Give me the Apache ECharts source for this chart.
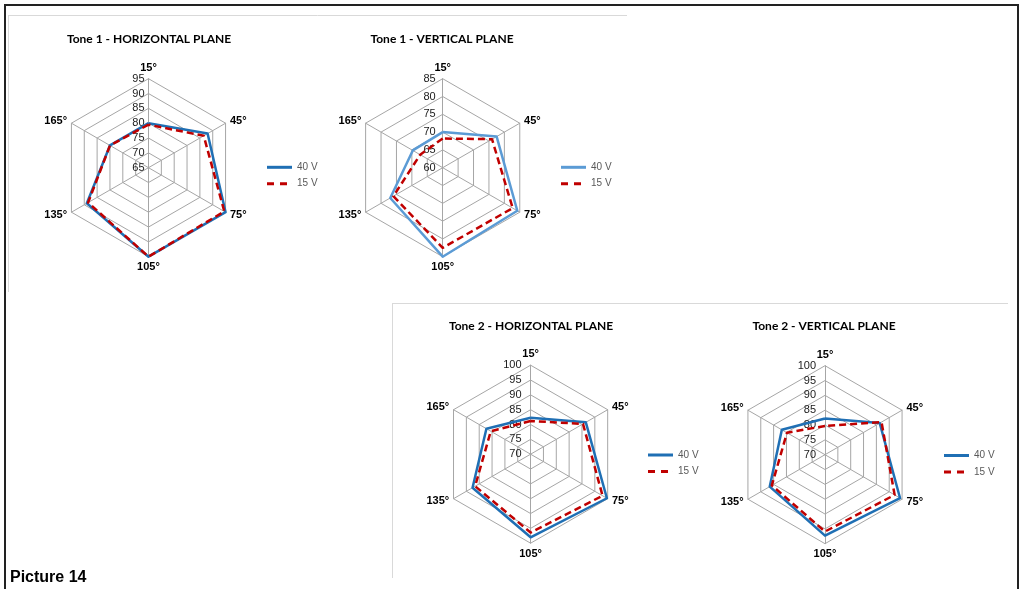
<!DOCTYPE html>
<html><head><meta charset="utf-8">
<script src="https://cdn.jsdelivr.net/npm/echarts@6/dist/echarts.min.js"></script>
<style>html,body{margin:0;padding:0;background:#fff}#c{width:1025px;height:589px}</style>
</head><body><div id="c"></div>
<script>
// ---- data ----
const categories = ['15°', '45°', '75°', '105°', '135°', '165°'];
const seriesNames = ['40 V', '15 V'];
const chartTitles = ['Tone 1 - HORIZONTAL PLANE', 'Tone 1 - VERTICAL PLANE', 'Tone 2 - HORIZONTAL PLANE', 'Tone 2 - VERTICAL PLANE'];
const axisMin = [65, 60, 70, 70];
const axisMax = [95, 85, 100, 100];
const axisStep = 5;
const tone1H_40V = [80, 88, 95, 95, 89, 80];
const tone1H_15V = [79.5, 86.5, 94.5, 95, 88.5, 80];
const tone1V_40V = [70, 77.5, 84.2, 85, 77, 69.7];
const tone1V_15V = [68.2, 76, 82.7, 82.5, 76, 67.3];
const tone2H_40V = [82.3, 91.5, 99.7, 98, 92.6, 87.2];
const tone2H_15V = [81.2, 90.4, 98, 96.4, 91.6, 85.5];
const tone2V_40V = [82.2, 91.3, 99.2, 97.3, 91.5, 86.8];
const tone2V_15V = [79.7, 92, 97.1, 95.9, 90.7, 84.8];
const captionText = 'Picture 14';

// ---- layout / style ----
const values40 = [tone1H_40V, tone1V_40V, tone2H_40V, tone2V_40V];
const values15 = [tone1H_15V, tone1V_15V, tone2H_15V, tone2V_15V];
const blue = ['#1F6FB4', '#5B9BD5', '#1F6FB4', '#1F6FB4'];
const red = '#C00000';
const layout = [
  {center: [148.5, 167.7], titleX: 149, titleY: 33, legendX: 267, legendY: 161.3, labelMargin: 4},
  {center: [442.7, 167.7], titleX: 442, titleY: 33, legendX: 561, legendY: 161.3, labelMargin: 7},
  {center: [530.6, 454.2], titleX: 531, titleY: 320.5, legendX: 648, legendY: 449, labelMargin: 9},
  {center: [825, 454.7], titleX: 824, titleY: 320.5, legendX: 944, legendY: 449.5, labelMargin: 9}
];
const R = 89;
// ECharts places indicators counter-clockwise; Excel goes clockwise from top
const order = [0, 5, 4, 3, 2, 1];
const reorder = a => order.map(i => a[i]);
const FONT = '"Liberation Sans", Arial, sans-serif';

const chart = echarts.init(document.getElementById('c'), null, {renderer: 'canvas'});
const option = {
  backgroundColor: '#fff',
  animation: false,
  title: chartTitles.map((t, k) => ({
    text: t, left: layout[k].titleX, top: layout[k].titleY, textAlign: 'center', padding: 0,
    textStyle: {fontFamily: 'Lato', fontWeight: 'bold', fontSize: 12, color: '#000'}
  })),
  legend: layout.map((L, k) => ({
    orient: 'vertical', left: L.legendX, top: L.legendY, padding: 0,
    itemWidth: 25, itemHeight: 3, itemGap: 4.4, selectedMode: false,
    textStyle: {color: '#595959', fontSize: 10, fontFamily: FONT, lineHeight: 12},
    data: [
      {name: seriesNames[0], icon: 'path://M0,0h25v3h-25z', itemStyle: {color: blue[k]}},
      {name: seriesNames[1], icon: 'path://M0,0h7v3h-7zM13,0h7v3h-7zM24.9,1.4h0.1v0.1h-0.1z', itemStyle: {color: red}}
    ]
  })),
  radar: layout.map((L, k) => ({
    center: L.center, radius: R, startAngle: 90, shape: 'polygon',
    splitNumber: (axisMax[k] - axisMin[k]) / axisStep,
    indicator: order.map((i, j) => ({
      name: categories[i], min: axisMin[k], max: axisMax[k],
      axisLabel: {show: j === 0}
    })),
    nameGap: 5,
    axisName: {color: '#000', fontFamily: FONT, fontWeight: 'bold', fontSize: 11},
    splitLine: {lineStyle: {color: '#a6a6a6', width: 1}},
    splitArea: {show: false},
    axisLine: {lineStyle: {color: '#a6a6a6', width: 1}},
    axisTick: {show: false},
    axisLabel: {show: false, color: '#1a1a1a', fontSize: 11, fontFamily: FONT, margin: L.labelMargin}
  })),
  series: layout.map((L, k) => ({
    type: 'radar', radarIndex: k, symbol: 'none', silent: true,
    data: [
      {name: seriesNames[0], value: reorder(values40[k]),
       lineStyle: {color: blue[k], width: 2.5, type: 'solid'}, itemStyle: {color: blue[k]}},
      {name: seriesNames[1], value: reorder(values15[k]),
       lineStyle: {color: red, width: 2.5, type: [7, 4]}, itemStyle: {color: red}}
    ]
  })),
  graphic: [
    {type: 'rect', silent: true, shape: {x: 5, y: 5, width: 1013, height: 600}, style: {fill: 'none', stroke: '#222', lineWidth: 2}},
    {type: 'line', silent: true, shape: {x1: 8, y1: 15.5, x2: 627, y2: 15.5}, style: {stroke: '#d9d9d9', lineWidth: 1}},
    {type: 'line', silent: true, shape: {x1: 8.5, y1: 15, x2: 8.5, y2: 292}, style: {stroke: '#d9d9d9', lineWidth: 1}},
    {type: 'line', silent: true, shape: {x1: 392, y1: 303.5, x2: 1008, y2: 303.5}, style: {stroke: '#d9d9d9', lineWidth: 1}},
    {type: 'line', silent: true, shape: {x1: 392.5, y1: 303, x2: 392.5, y2: 578}, style: {stroke: '#d9d9d9', lineWidth: 1}},
    {type: 'text', silent: true, x: 10, y: 578, style: {text: captionText, font: 'bold 16px ' + FONT, fill: '#000', verticalAlign: 'middle'}}
  ]
};
chart.setOption(option);
</script>
</body></html>
